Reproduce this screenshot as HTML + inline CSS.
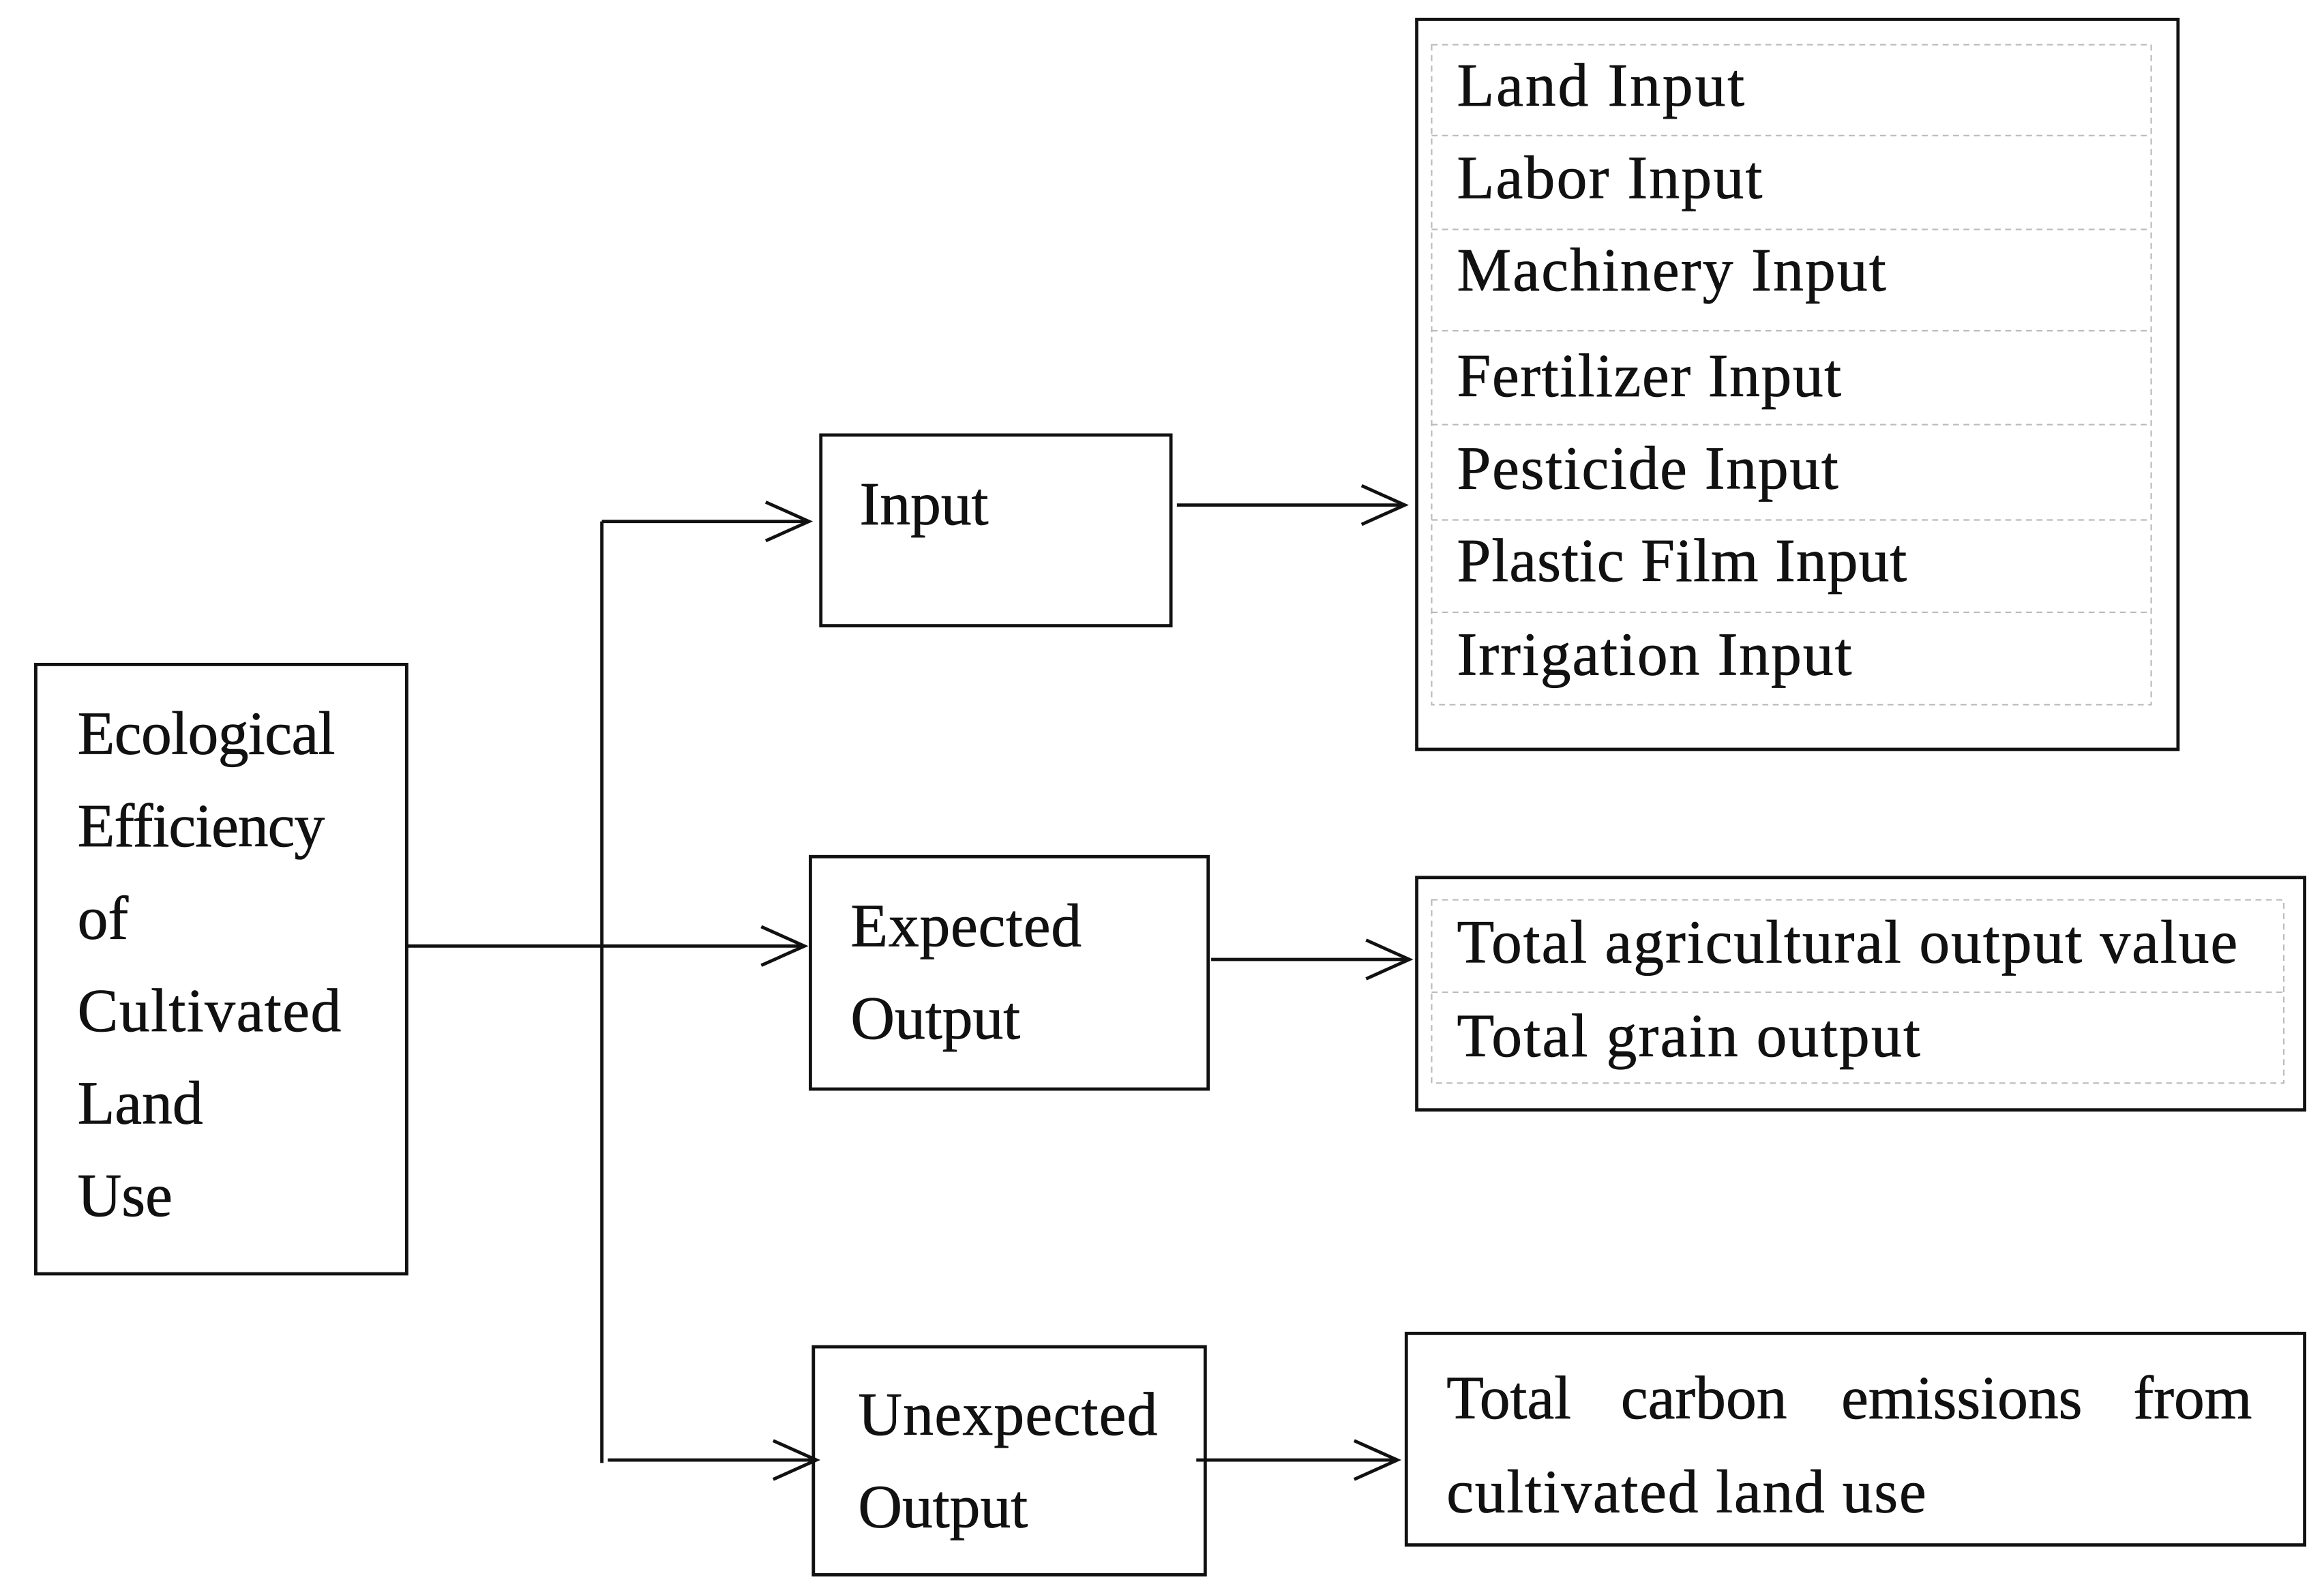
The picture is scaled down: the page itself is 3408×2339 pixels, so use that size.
<!DOCTYPE html>
<html><head><meta charset="utf-8"><style>
html,body{margin:0;padding:0;background:#fff;}
svg{display:block;}
text{font-family:"Liberation Serif",serif;font-size:41px;fill:#111;stroke:#111;stroke-width:0.35px;}
</style></head><body>
<svg width="3408" height="2339" viewBox="0 0 1560 1070.6" preserveAspectRatio="none" xmlns="http://www.w3.org/2000/svg">
<g fill="none" stroke="#111" stroke-width="2.2">
<rect x="24" y="446" width="249" height="409"/>
<rect x="551" y="292" width="235" height="128"/>
<rect x="544" y="575" width="267" height="156"/>
<rect x="546" y="904" width="263" height="153"/>
<rect x="951" y="13" width="511" height="490"/>
<rect x="951" y="589" width="596" height="156"/>
<rect x="944" y="895" width="603" height="142"/>
<line x1="404" y1="350" x2="404" y2="982"/>
<line x1="404" y1="350" x2="543" y2="350"/>
<line x1="273" y1="635" x2="540" y2="635"/>
<line x1="408" y1="980" x2="548" y2="980"/>
<line x1="790" y1="339" x2="943" y2="339"/>
<line x1="813" y1="644" x2="946" y2="644"/>
<line x1="803" y1="980" x2="938" y2="980"/>
<polyline points="514,337 543,350 514,363"/>
<polyline points="511,622 540,635 511,648"/>
<polyline points="519,967 548,980 519,993"/>
<polyline points="914,326 943,339 914,352"/>
<polyline points="917,631 946,644 917,657"/>
<polyline points="909,967 938,980 909,993"/>
</g>
<g fill="none" stroke="#bbb" stroke-width="1" stroke-dasharray="4,3">
<rect x="961" y="30" width="483" height="443"/>
<line x1="961" y1="91" x2="1444" y2="91"/>
<line x1="961" y1="154" x2="1444" y2="154"/>
<line x1="961" y1="222" x2="1444" y2="222"/>
<line x1="961" y1="285" x2="1444" y2="285"/>
<line x1="961" y1="349" x2="1444" y2="349"/>
<line x1="961" y1="411" x2="1444" y2="411"/>
<rect x="961" y="604" width="572" height="123"/>
<line x1="961" y1="666" x2="1533" y2="666"/>
</g>
<text x="52" y="506" textLength="173">Ecological</text>
<text x="52" y="568" textLength="166">Efficiency</text>
<text x="52" y="630">of</text>
<text x="52" y="692" textLength="177">Cultivated</text>
<text x="52" y="754">Land</text>
<text x="52" y="816">Use</text>
<text x="577" y="352">Input</text>
<text x="571" y="635" textLength="155">Expected</text>
<text x="571" y="697">Output</text>
<text x="576" y="963" textLength="201">Unexpected</text>
<text x="576" y="1025">Output</text>
<text x="978" y="71" textLength="193">Land Input</text>
<text x="978" y="133" textLength="205">Labor Input</text>
<text x="978" y="195" textLength="288">Machinery Input</text>
<text x="978" y="266" textLength="258">Fertilizer Input</text>
<text x="978" y="328" textLength="256">Pesticide Input</text>
<text x="978" y="390" textLength="302">Plastic Film Input</text>
<text x="978" y="453" textLength="265">Irrigation Input</text>
<text x="978" y="646" textLength="524">Total agricultural output value</text>
<text x="978" y="709" textLength="311">Total grain output</text>
<text x="971" y="952">Total</text>
<text x="1088" y="952">carbon</text>
<text x="1236" y="952">emissions</text>
<text x="1432" y="952">from</text>
<text x="971" y="1015" textLength="322">cultivated land use</text>
</svg>
</body></html>
